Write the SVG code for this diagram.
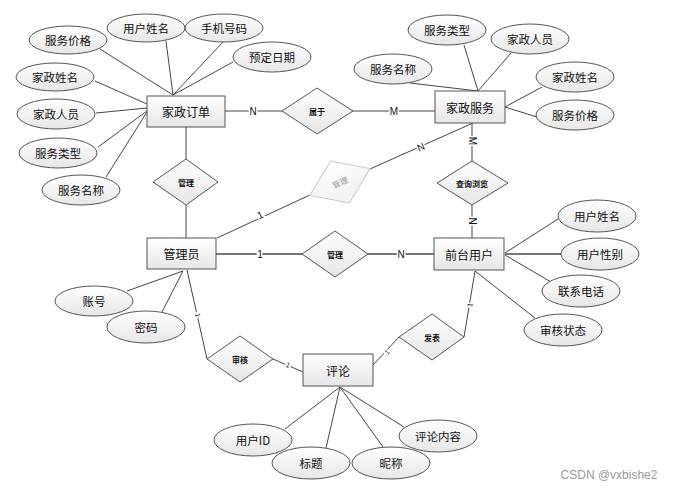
<svg xmlns="http://www.w3.org/2000/svg" width="676" height="491" viewBox="0 0 676 491">
<defs>
<linearGradient id="g" x1="0" y1="0" x2="0" y2="1"><stop offset="0" stop-color="#ffffff"/><stop offset="1" stop-color="#e6e6e6"/></linearGradient>
<linearGradient id="gf" x1="0" y1="0" x2="0" y2="1"><stop offset="0" stop-color="#ffffff"/><stop offset="1" stop-color="#f0f0f0"/></linearGradient>
</defs>
<style>
text{font-family:"Noto Sans CJK SC","Liberation Sans",sans-serif;text-anchor:middle;dominant-baseline:central;fill:#111}
.ent rect{fill:url(#g);stroke:#555;stroke-width:1}
.att ellipse{fill:url(#g);stroke:#555;stroke-width:1}
.rel polygon{fill:url(#g);stroke:#555;stroke-width:1}
.et{font-size:12px}
.at{font-size:11.5px}
.rt{font-size:8px;font-weight:bold}
.lk line{stroke:#444;stroke-width:1}
.lk .thick{stroke:#777;stroke-width:2}
.lb{font-size:10px;font-family:"Liberation Sans",sans-serif}
</style>
<rect width="676" height="491" fill="#fff"/>
<g id="connectors" class="lk">
<!-- 家政订单 attributes -->
<line x1="100" y1="49" x2="173" y2="95"/>
<line x1="166" y1="41" x2="173" y2="95"/>
<line x1="223" y1="42" x2="173" y2="95"/>
<line x1="233" y1="62" x2="173" y2="95"/>
<line x1="95" y1="81" x2="147" y2="104"/>
<line x1="96" y1="113" x2="147" y2="108"/>
<line x1="98" y1="147" x2="147" y2="111"/>
<line x1="106" y1="177" x2="147" y2="112"/>
<!-- 家政服务 attributes -->
<line x1="464" y1="45" x2="478" y2="91"/>
<line x1="511" y1="53" x2="478" y2="91"/>
<line x1="410" y1="83" x2="478" y2="91"/>
<line x1="542" y1="87" x2="505" y2="107"/>
<line x1="537" y1="117" x2="505" y2="107"/>
<!-- relations -->
<line x1="225" y1="111" x2="282" y2="111"/>
<line x1="353" y1="111" x2="435" y2="111"/>
<line x1="186" y1="127" x2="186" y2="159"/>
<line x1="186" y1="205" x2="186" y2="238"/>
<line x1="472" y1="123" x2="472" y2="161"/>
<line x1="472" y1="205" x2="472" y2="238"/>
<line x1="217" y1="238" x2="310" y2="195"/>
<line x1="370" y1="169" x2="473" y2="123"/>
<line class="thick" x1="216" y1="254" x2="302" y2="254"/>
<line class="thick" x1="368" y1="254" x2="434" y2="254"/>
<line x1="187" y1="270" x2="207" y2="359"/>
<line x1="273" y1="359" x2="303" y2="372"/>
<line x1="475" y1="271" x2="464" y2="337"/>
<line x1="399" y1="337" x2="373" y2="365"/>
<!-- 管理员 attributes -->
<line x1="127" y1="291" x2="183" y2="271"/>
<line x1="162" y1="312" x2="183" y2="271"/>
<!-- 前台用户 attributes -->
<line x1="558" y1="219" x2="505" y2="253"/>
<line class="thick" x1="561" y1="254" x2="505" y2="254"/>
<line x1="551" y1="282" x2="505" y2="255"/>
<line x1="475" y1="271" x2="535" y2="318"/>
<!-- 评论 attributes -->
<line x1="285" y1="429" x2="340" y2="387"/>
<line x1="326" y1="448" x2="340" y2="387"/>
<line x1="383" y1="447" x2="340" y2="387"/>
<line x1="404" y1="427" x2="340" y2="387"/>
<!-- cardinality labels -->
<text class="lb" x="253" y="111" style="paint-order:stroke;stroke:#fff;stroke-width:3">N</text>
<text class="lb" x="394" y="111" style="paint-order:stroke;stroke:#fff;stroke-width:3">M</text>
<text class="lb" x="472" y="141" transform="rotate(90 472 141)" style="paint-order:stroke;stroke:#fff;stroke-width:3">M</text>
<text class="lb" x="472" y="221" transform="rotate(90 472 221)" style="paint-order:stroke;stroke:#fff;stroke-width:3">N</text>
<text class="lb" x="421" y="147" transform="rotate(-24 421 147)" style="paint-order:stroke;stroke:#fff;stroke-width:3">N</text>
<text class="lb" x="260" y="215" transform="rotate(-24 260 215)" style="paint-order:stroke;stroke:#fff;stroke-width:3">1</text>
<text class="lb" x="260" y="254" style="paint-order:stroke;stroke:#fff;stroke-width:3">1</text>
<text class="lb" x="401" y="254" style="paint-order:stroke;stroke:#fff;stroke-width:3">N</text>
<text class="lb" x="198" y="315" font-size="7" transform="rotate(77 198 315)" style="paint-order:stroke;stroke:#fff;stroke-width:3;font-size:7px">1</text>
<text class="lb" x="288" y="365" transform="rotate(23 288 365)" style="paint-order:stroke;stroke:#fff;stroke-width:3;font-size:7px">1</text>
<text class="lb" x="470" y="305" transform="rotate(-80 470 305)" style="paint-order:stroke;stroke:#fff;stroke-width:3;font-size:7px">1</text>
<text class="lb" x="387" y="352" transform="rotate(-47 387 352)" style="paint-order:stroke;stroke:#fff;stroke-width:3;font-size:7px">1</text>
</g>
<g id="e-order" class="ent"><rect x="147" y="96" width="78" height="31"/><text class="et" x="186" y="111.5">家政订单</text></g>
<g id="e-service" class="ent"><rect x="435" y="91" width="70" height="32"/><text class="et" x="470" y="107">家政服务</text></g>
<g id="e-admin" class="ent"><rect x="147" y="238" width="69" height="31"/><text class="et" x="181.5" y="253.5">管理员</text></g>
<g id="e-user" class="ent"><rect x="434" y="238" width="70" height="32"/><text class="et" x="469" y="254">前台用户</text></g>
<g id="e-comment" class="ent"><rect x="303" y="354" width="70" height="32"/><text class="et" x="338" y="370">评论</text></g>

<g id="r-belong" class="rel"><polygon points="317,88 353,111 317,134 282,111"/><text class="rt" x="317" y="111">属于</text></g>
<g id="r-manage1" class="rel"><polygon points="186,159 218,182 186,205 153,182"/><text class="rt" x="186" y="182">管理</text></g>
<g id="r-query" class="rel"><polygon points="472,161 508,183 472,205 437,183"/><text class="rt" x="472" y="183">查询浏览</text></g>
<g id="r-manage2" class="rel"><polygon points="335,231 368,254 335,277 302,254"/><text class="rt" x="335" y="254">管理</text></g>
<g id="r-audit" class="rel"><polygon points="240,336 273,359 240,382 207,359"/><text class="rt" x="240" y="359">审核</text></g>
<g id="r-post" class="rel"><polygon points="432,314 464,337 432,360 399,337"/><text class="rt" x="432" y="337">发表</text></g>
<g id="r-manage3" transform="rotate(-24 340 182)"><polygon points="340,159 373,182 340,205 307,182" fill="url(#gf)" stroke="#c8c8c8" stroke-width="1"/><text x="340" y="182" style="font-size:8px;fill:#999">管理</text></g>

<g id="a-o-price" class="att"><ellipse cx="68" cy="40" rx="39" ry="14"/><text class="at" x="68" y="40">服务价格</text></g>
<g id="a-o-uname" class="att"><ellipse cx="146" cy="28" rx="39" ry="14"/><text class="at" x="146" y="28">用户姓名</text></g>
<g id="a-o-phone" class="att"><ellipse cx="224" cy="28" rx="39" ry="14"/><text class="at" x="224" y="28">手机号码</text></g>
<g id="a-o-date" class="att"><ellipse cx="272" cy="57" rx="39" ry="15"/><text class="at" x="272" y="57">预定日期</text></g>
<g id="a-o-hname" class="att"><ellipse cx="55" cy="77" rx="39" ry="14"/><text class="at" x="55" y="77">家政姓名</text></g>
<g id="a-o-staff" class="att"><ellipse cx="56" cy="114" rx="39" ry="15"/><text class="at" x="56" y="114">家政人员</text></g>
<g id="a-o-type" class="att"><ellipse cx="58" cy="153" rx="39" ry="15"/><text class="at" x="58" y="153">服务类型</text></g>
<g id="a-o-sname" class="att"><ellipse cx="81" cy="190" rx="39" ry="15"/><text class="at" x="81" y="190">服务名称</text></g>

<g id="a-s-type" class="att"><ellipse cx="447" cy="30" rx="39" ry="15"/><text class="at" x="447" y="30">服务类型</text></g>
<g id="a-s-staff" class="att"><ellipse cx="530" cy="39" rx="39" ry="15"/><text class="at" x="530" y="39">家政人员</text></g>
<g id="a-s-sname" class="att"><ellipse cx="393" cy="69" rx="39" ry="15"/><text class="at" x="393" y="69">服务名称</text></g>
<g id="a-s-hname" class="att"><ellipse cx="575" cy="77" rx="39" ry="15"/><text class="at" x="575" y="77">家政姓名</text></g>
<g id="a-s-price" class="att"><ellipse cx="575" cy="115" rx="39" ry="15"/><text class="at" x="575" y="115">服务价格</text></g>

<g id="a-a-acct" class="att"><ellipse cx="94" cy="301" rx="39" ry="15"/><text class="at" x="94" y="301">账号</text></g>
<g id="a-a-pwd" class="att"><ellipse cx="146" cy="327" rx="39" ry="16"/><text class="at" x="146" y="327">密码</text></g>

<g id="a-u-name" class="att"><ellipse cx="597" cy="216" rx="39" ry="16"/><text class="at" x="597" y="216">用户姓名</text></g>
<g id="a-u-sex" class="att"><ellipse cx="600" cy="254" rx="39" ry="16"/><text class="at" x="600" y="254">用户性别</text></g>
<g id="a-u-tel" class="att"><ellipse cx="581" cy="291" rx="39" ry="16"/><text class="at" x="581" y="291">联系电话</text></g>
<g id="a-u-state" class="att"><ellipse cx="563" cy="330" rx="39" ry="16"/><text class="at" x="563" y="330">审核状态</text></g>

<g id="a-c-uid" class="att"><ellipse cx="253" cy="440" rx="39" ry="16"/><text class="at" x="253" y="440">用户ID</text></g>
<g id="a-c-title" class="att"><ellipse cx="311" cy="463" rx="39" ry="16"/><text class="at" x="311" y="463">标题</text></g>
<g id="a-c-nick" class="att"><ellipse cx="391" cy="463" rx="39" ry="16"/><text class="at" x="391" y="463">昵称</text></g>
<g id="a-c-content" class="att"><ellipse cx="438" cy="436" rx="39" ry="16"/><text class="at" x="438" y="436">评论内容</text></g>

<text x="609" y="475" style="font-size:12px;fill:#999;font-family:'Liberation Sans',sans-serif">CSDN @vxbishe2</text>
</svg>
